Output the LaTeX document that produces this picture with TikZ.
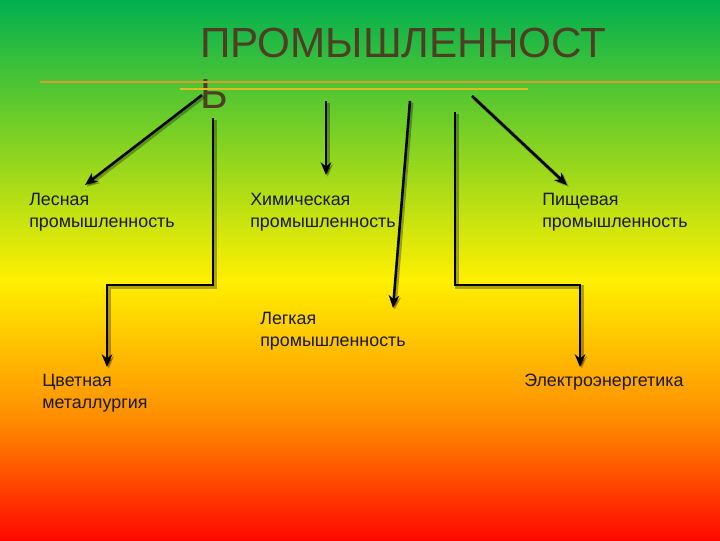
\documentclass[tikz,border=0pt]{standalone}
\usepackage{fontspec}
\setmainfont{Liberation Sans}
\usetikzlibrary{positioning,calc,arrows.meta}
\definecolor{bgtop}{RGB}{0,176,80}
\definecolor{bglime}{RGB}{110,205,40}
\definecolor{bgyellow}{RGB}{255,240,0}
\definecolor{bgorange}{RGB}{255,140,0}
\definecolor{bgred}{RGB}{255,8,0}
\definecolor{titlebrown}{RGB}{78,62,36}
\definecolor{rulegold}{RGB}{214,158,48}
\tikzset{
	branch/.style={
		draw=black,
		line width=1.8pt,
		-{Stealth[length=9pt,width=7.5pt]},
		preaction={draw=black, opacity=0.3, line width=2.6pt, transform canvas={xshift=1.2pt,yshift=-1.2pt}}
	},
	sector/.style={
		align=left,
		inner sep=0pt,
		anchor=base west,
		text=black!90,
		font=\fontsize{12.7}{15}\selectfont
	}
}

\begin{document}
\begin{tikzpicture}[x=0.025cm, y=-0.025cm]
		\useasboundingbox (0,0) rectangle (720,540);
		% background
		\shade[top color=bgtop, bottom color=bglime] (0,0) rectangle (720,120);
		\shade[top color=bglime, bottom color=bgyellow] (0,120) rectangle (720,280);
		\shade[top color=bgyellow, bottom color=bgorange] (0,280) rectangle (720,420);
		\shade[top color=bgorange, bottom color=bgred] (0,420) rectangle (720,540);
		
		\node[anchor=base west, align=left, inner sep=0pt, text=titlebrown, font=\fontsize{30}{36}\selectfont] (title) at (200,108) {ПРОМЫШЛЕННОСТ\\Ь};
		\draw[rulegold, line width=1.3pt] (40,82) -- (720,82);
		\draw[rulegold!70!yellow, line width=1.1pt] (180,89) -- (528,89);
		
		% base = last line
		\node[sector] (lesn) at (29,227) {Лесная\\промышленность};
		\node[sector] (chem) at (250,227) {Химическая\\промышленность};
		\node[sector] (food) at (542,227) {Пищевая\\промышленность};
		\node[sector] (legk) at (260,346) {Легкая\\промышленность};
		\node[sector] (cvet) at (42,408) {Цветная\\металлургия};
		\node[sector] (elek) at (524,386) {Электроэнергетика};
		
		\coordinate (s-lesn) at (202,95);
		\coordinate (s-chem) at (326,101);
		\coordinate (s-legk) at (410,101);
		\coordinate (s-food) at (472,96);
		\coordinate (s-cvet) at (213,118);
		\coordinate (s-elek) at (455,112);
		
		\draw[branch] (s-lesn) -- ($(lesn.base west)+(56,-42)$);
		\draw[branch] (s-chem) -- ($(chem.base west)+(76,-52)$);
		\draw[branch] (s-legk) -- ($(legk.base west)+(133,-38)$);
		\draw[branch] (s-food) -- ($(food.base west)+(25,-42)$);
		\draw[branch] (s-cvet) -- ++(0,167) -| ($(cvet.base west)+(65,-41)$);
		\draw[branch] (s-elek) -- ++(0,173) -| ($(elek.base west)+(56,-19)$);
		
\end{tikzpicture}
\end{document}
